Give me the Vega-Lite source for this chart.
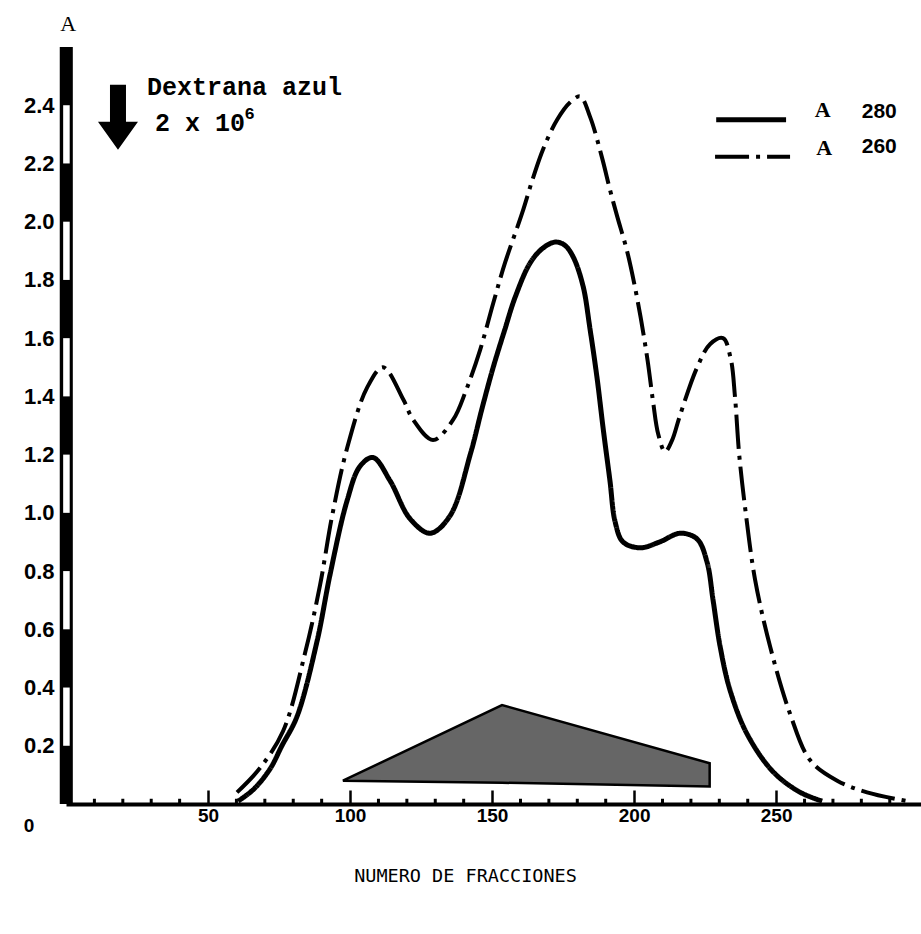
{
  "$schema": "https://vega.github.io/schema/vega-lite/v6.json",
  "width": 855,
  "height": 757,
  "autosize": {"type": "none"},
  "padding": {"left": 66, "top": 47, "right": 0, "bottom": 130},
  "background": "white",
  "config": {"view": {"stroke": null}},
  "datasets": {
    "curves": [
      {"series": "A280", "x": 60.6, "y": 0.01},
      {"series": "A280", "x": 66, "y": 0.05},
      {"series": "A280", "x": 71.8, "y": 0.12},
      {"series": "A280", "x": 76, "y": 0.2},
      {"series": "A280", "x": 81.3, "y": 0.30},
      {"series": "A280", "x": 88.4, "y": 0.56},
      {"series": "A280", "x": 93.0, "y": 0.79},
      {"series": "A280", "x": 98.9, "y": 1.04},
      {"series": "A280", "x": 103.5, "y": 1.16},
      {"series": "A280", "x": 108.1, "y": 1.19},
      {"series": "A280", "x": 114.1, "y": 1.11},
      {"series": "A280", "x": 121.1, "y": 0.98},
      {"series": "A280", "x": 128.2, "y": 0.93},
      {"series": "A280", "x": 135.2, "y": 0.99},
      {"series": "A280", "x": 142.3, "y": 1.20},
      {"series": "A280", "x": 146.5, "y": 1.36},
      {"series": "A280", "x": 150.4, "y": 1.50},
      {"series": "A280", "x": 154.5, "y": 1.63},
      {"series": "A280", "x": 158.1, "y": 1.74},
      {"series": "A280", "x": 163.5, "y": 1.86},
      {"series": "A280", "x": 168.0, "y": 1.91},
      {"series": "A280", "x": 172.2, "y": 1.93},
      {"series": "A280", "x": 175.5, "y": 1.92},
      {"series": "A280", "x": 178.5, "y": 1.88},
      {"series": "A280", "x": 182.0, "y": 1.78},
      {"series": "A280", "x": 184.5, "y": 1.63},
      {"series": "A280", "x": 187.0, "y": 1.46},
      {"series": "A280", "x": 189.1, "y": 1.29},
      {"series": "A280", "x": 191.5, "y": 1.11},
      {"series": "A280", "x": 193.3, "y": 0.97},
      {"series": "A280", "x": 196.1, "y": 0.90},
      {"series": "A280", "x": 202.1, "y": 0.88},
      {"series": "A280", "x": 209.0, "y": 0.90},
      {"series": "A280", "x": 216.2, "y": 0.93},
      {"series": "A280", "x": 222.2, "y": 0.91},
      {"series": "A280", "x": 225.7, "y": 0.83},
      {"series": "A280", "x": 227.8, "y": 0.70},
      {"series": "A280", "x": 230.3, "y": 0.54},
      {"series": "A280", "x": 233.8, "y": 0.39},
      {"series": "A280", "x": 239.8, "y": 0.24},
      {"series": "A280", "x": 249.0, "y": 0.11},
      {"series": "A280", "x": 258.5, "y": 0.04},
      {"series": "A280", "x": 266.2, "y": 0.01},
      {"series": "A260", "x": 60.2, "y": 0.04},
      {"series": "A260", "x": 68, "y": 0.12},
      {"series": "A260", "x": 76.4, "y": 0.25},
      {"series": "A260", "x": 84.2, "y": 0.52},
      {"series": "A260", "x": 89.4, "y": 0.75},
      {"series": "A260", "x": 93.7, "y": 0.99},
      {"series": "A260", "x": 98.9, "y": 1.22},
      {"series": "A260", "x": 106.0, "y": 1.43},
      {"series": "A260", "x": 111.6, "y": 1.50},
      {"series": "A260", "x": 118.7, "y": 1.39},
      {"series": "A260", "x": 122.2, "y": 1.32},
      {"series": "A260", "x": 129.2, "y": 1.25},
      {"series": "A260", "x": 136.3, "y": 1.32},
      {"series": "A260", "x": 140.8, "y": 1.42},
      {"series": "A260", "x": 145.8, "y": 1.56},
      {"series": "A260", "x": 150.4, "y": 1.72},
      {"series": "A260", "x": 154.6, "y": 1.86},
      {"series": "A260", "x": 160.6, "y": 2.03},
      {"series": "A260", "x": 164.4, "y": 2.15},
      {"series": "A260", "x": 168.0, "y": 2.25},
      {"series": "A260", "x": 172.9, "y": 2.35},
      {"series": "A260", "x": 177.5, "y": 2.41},
      {"series": "A260", "x": 181.0, "y": 2.43},
      {"series": "A260", "x": 184.5, "y": 2.36},
      {"series": "A260", "x": 188.7, "y": 2.22},
      {"series": "A260", "x": 191.5, "y": 2.11},
      {"series": "A260", "x": 194.0, "y": 2.02},
      {"series": "A260", "x": 197.5, "y": 1.90},
      {"series": "A260", "x": 200.0, "y": 1.79},
      {"series": "A260", "x": 202.5, "y": 1.66},
      {"series": "A260", "x": 204.8, "y": 1.52},
      {"series": "A260", "x": 206.7, "y": 1.38},
      {"series": "A260", "x": 208.5, "y": 1.27},
      {"series": "A260", "x": 210.9, "y": 1.21},
      {"series": "A260", "x": 213.4, "y": 1.25},
      {"series": "A260", "x": 216.0, "y": 1.33},
      {"series": "A260", "x": 222.2, "y": 1.50},
      {"series": "A260", "x": 226.8, "y": 1.58},
      {"series": "A260", "x": 231.3, "y": 1.60},
      {"series": "A260", "x": 234.0, "y": 1.53},
      {"series": "A260", "x": 235.5, "y": 1.40},
      {"series": "A260", "x": 237.0, "y": 1.20},
      {"series": "A260", "x": 239.3, "y": 1.00},
      {"series": "A260", "x": 242.6, "y": 0.77},
      {"series": "A260", "x": 247.9, "y": 0.54},
      {"series": "A260", "x": 254.9, "y": 0.31},
      {"series": "A260", "x": 262.0, "y": 0.15},
      {"series": "A260", "x": 271.5, "y": 0.08},
      {"series": "A260", "x": 282.0, "y": 0.04},
      {"series": "A260", "x": 296.1, "y": 0.01}
    ],
    "triangle": [
      {"x": 97.5, "y": 0.08, "y2": 0.08},
      {"x": 153.5, "y": 0.34, "y2": 0.073},
      {"x": 226.6, "y": 0.14, "y2": 0.06}
    ],
    "scalebar": [
      {"y": 0.2, "y2": 0.4},
      {"y": 0.6, "y2": 0.8},
      {"y": 1.0, "y2": 1.2},
      {"y": 1.4, "y2": 1.6},
      {"y": 1.8, "y2": 2.0},
      {"y": 2.2, "y2": 2.4}
    ],
    "minorticks": [
      {"x": 10}, {"x": 20}, {"x": 30}, {"x": 40}, {"x": 60}, {"x": 70}, {"x": 80}, {"x": 90},
      {"x": 110}, {"x": 120}, {"x": 130}, {"x": 140}, {"x": 160}, {"x": 170}, {"x": 180}, {"x": 190},
      {"x": 210}, {"x": 220}, {"x": 230}, {"x": 240}, {"x": 260}, {"x": 270}, {"x": 280}, {"x": 290}
    ],
    "legendlines": [
      {"series": "A280", "x": 228.9, "x2": 253.5, "y": 2.35},
      {"series": "A260", "x": 228.5, "x2": 254.9, "y": 2.223}
    ],
    "legendA": [
      {"x": 266.4, "y": 2.385, "label": "A"},
      {"x": 266.9, "y": 2.254, "label": "A"}
    ],
    "legendnum": [
      {"x": 286.3, "y": 2.378, "label": "280"},
      {"x": 286.3, "y": 2.258, "label": "260"}
    ],
    "notes": [
      {"x": 28.5, "y": 2.464, "label": "Dextrana azul"},
      {"x": 31.3, "y": 2.34, "label": "2 x 10"}
    ],
    "sup": [
      {"x": 62.8, "y": 2.37, "label": "6"}
    ],
    "arrow": [
      {"x": 18.3, "y": 2.333}
    ],
    "origin": [
      {"x": -13, "y": -0.075, "label": "0"}
    ],
    "ytitle": [
      {"x": 0.8, "y": 2.68, "label": "A"}
    ]
  },
  "layer": [
    {
      "data": {"values": [{}]},
      "mark": {"type": "rect", "fill": "black"},
      "encoding": {
        "x": {
          "datum": -2.2,
          "type": "quantitative",
          "scale": {"domain": [0, 301], "nice": false, "zero": false},
          "axis": {
            "title": "NUMERO DE FRACCIONES",
            "values": [50, 100, 150, 200, 250],
            "tickSize": -14,
            "tickWidth": 2.5,
            "tickColor": "black",
            "domainColor": "black",
            "domainWidth": 4,
            "grid": false,
            "labelFont": "Liberation Sans",
            "labelFontWeight": "bold",
            "labelFontSize": 19,
            "labelColor": "black",
            "labelPadding": 16,
            "labelFlush": false,
            "titleFont": "DejaVu Sans Mono",
            "titleFontSize": 18.5,
            "titleFontWeight": "normal",
            "titleColor": "black",
            "titleX": 399,
            "titleY": 71,
            "titleBaseline": "middle"
          }
        },
        "x2": {"datum": 2.4},
        "y": {
          "datum": 0,
          "type": "quantitative",
          "scale": {"domain": [0, 2.6], "nice": false, "zero": false},
          "axis": {
            "title": null,
            "values": [0.2, 0.4, 0.6, 0.8, 1.0, 1.2, 1.4, 1.6, 1.8, 2.0, 2.2, 2.4],
            "format": ".1f",
            "ticks": false,
            "domain": false,
            "grid": false,
            "labelFont": "Liberation Sans",
            "labelFontWeight": "bold",
            "labelFontSize": 22,
            "labelColor": "black",
            "labelPadding": 12
          }
        },
        "y2": {"datum": 2.6}
      }
    },
    {
      "data": {"name": "scalebar"},
      "mark": {"type": "rect", "fill": "white"},
      "encoding": {
        "x": {"datum": -1.0, "type": "quantitative"},
        "x2": {"datum": 1.3},
        "y": {"field": "y", "type": "quantitative"},
        "y2": {"field": "y2"}
      }
    },
    {
      "data": {"name": "minorticks"},
      "mark": {"type": "rule", "color": "black", "strokeWidth": 3},
      "encoding": {
        "x": {"field": "x", "type": "quantitative"},
        "y": {"datum": 0, "type": "quantitative"},
        "y2": {"datum": 0.018}
      }
    },
    {
      "data": {"name": "triangle"},
      "mark": {"type": "area", "fill": "#666666", "stroke": "black", "strokeWidth": 2.5, "interpolate": "linear"},
      "encoding": {
        "x": {"field": "x", "type": "quantitative"},
        "y": {"field": "y", "type": "quantitative"},
        "y2": {"field": "y2"}
      }
    },
    {
      "data": {"name": "curves"},
      "mark": {"type": "line", "color": "black", "interpolate": "catmull-rom", "strokeCap": "butt"},
      "encoding": {
        "x": {"field": "x", "type": "quantitative"},
        "y": {"field": "y", "type": "quantitative"},
        "detail": {"field": "series"},
        "strokeDash": {"field": "series", "type": "nominal", "scale": {"domain": ["A280", "A260"], "range": [[1, 0], [34, 7, 4, 7]]}, "legend": null},
        "strokeWidth": {"field": "series", "type": "nominal", "scale": {"domain": ["A280", "A260"], "range": [5, 4]}, "legend": null}
      }
    },
    {
      "data": {"name": "legendlines"},
      "mark": {"type": "rule", "color": "black", "strokeCap": "butt"},
      "encoding": {
        "x": {"field": "x", "type": "quantitative"},
        "x2": {"field": "x2"},
        "y": {"field": "y", "type": "quantitative"},
        "strokeDash": {"field": "series", "type": "nominal", "legend": null},
        "strokeWidth": {"field": "series", "type": "nominal", "legend": null}
      }
    },
    {
      "data": {"name": "legendA"},
      "mark": {"type": "text", "font": "Liberation Serif", "fontSize": 22, "fontWeight": "bold", "color": "black", "baseline": "middle", "align": "center"},
      "encoding": {
        "x": {"field": "x", "type": "quantitative"},
        "y": {"field": "y", "type": "quantitative"},
        "text": {"field": "label"}
      }
    },
    {
      "data": {"name": "legendnum"},
      "mark": {"type": "text", "font": "Liberation Sans", "fontSize": 21, "fontWeight": "bold", "color": "black", "baseline": "middle", "align": "center"},
      "encoding": {
        "x": {"field": "x", "type": "quantitative"},
        "y": {"field": "y", "type": "quantitative"},
        "text": {"field": "label"}
      }
    },
    {
      "data": {"name": "notes"},
      "mark": {"type": "text", "font": "Liberation Mono", "fontSize": 25, "fontWeight": "bold", "color": "black", "baseline": "middle", "align": "left"},
      "encoding": {
        "x": {"field": "x", "type": "quantitative"},
        "y": {"field": "y", "type": "quantitative"},
        "text": {"field": "label"}
      }
    },
    {
      "data": {"name": "sup"},
      "mark": {"type": "text", "font": "Liberation Mono", "fontSize": 17, "fontWeight": "bold", "color": "black", "baseline": "middle", "align": "left"},
      "encoding": {
        "x": {"field": "x", "type": "quantitative"},
        "y": {"field": "y", "type": "quantitative"},
        "text": {"field": "label"}
      }
    },
    {
      "data": {"name": "arrow"},
      "mark": {"type": "point", "filled": true, "color": "black", "opacity": 1, "size": 1600, "shape": "M-0.4,-2L0.4,-2L0.4,-0.15L1,-0.15L0,1.25L-1,-0.15L-0.4,-0.15Z"},
      "encoding": {
        "x": {"field": "x", "type": "quantitative"},
        "y": {"field": "y", "type": "quantitative"}
      }
    },
    {
      "data": {"name": "origin"},
      "mark": {"type": "text", "font": "Liberation Sans", "fontSize": 19, "fontWeight": "bold", "color": "black", "baseline": "middle", "align": "center"},
      "encoding": {
        "x": {"field": "x", "type": "quantitative"},
        "y": {"field": "y", "type": "quantitative"},
        "text": {"field": "label"}
      }
    },
    {
      "data": {"name": "ytitle"},
      "mark": {"type": "text", "font": "Liberation Serif", "fontSize": 22, "color": "black", "baseline": "middle", "align": "center"},
      "encoding": {
        "x": {"field": "x", "type": "quantitative"},
        "y": {"field": "y", "type": "quantitative"},
        "text": {"field": "label"}
      }
    }
  ]
}
